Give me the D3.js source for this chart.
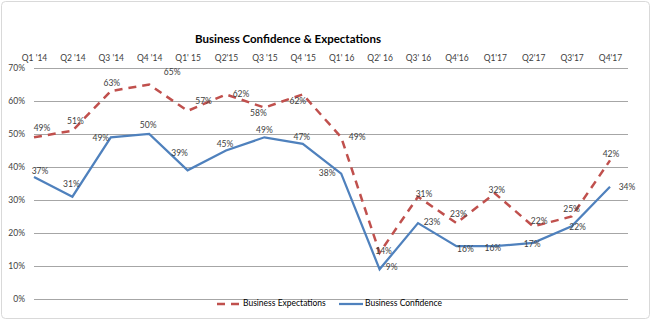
<!DOCTYPE html>
<html>
<head>
<meta charset="utf-8">
<script src="https://cdn.jsdelivr.net/npm/d3@7"></script>
<style>
html,body{margin:0;padding:0;background:#fff;}
svg{display:block;font-family:Lato,"Open Sans",sans-serif;}
</style>
</head>
<body>
<svg id="chart" width="652" height="321"></svg>
<script>
const categories = ["Q1 '14","Q2 '14","Q3 '14","Q4 '14","Q1' 15","Q2'15","Q3 '15","Q4 '15","Q1' 16","Q2' 16","Q3' 16","Q4'16","Q1'17","Q2'17","Q3'17","Q4'17"];
const expectations = [49,51,63,65,57,62,58,62,49,14,31,23,32,22,25,42];
const confidence   = [37,31,49,50,39,45,49,47,38,9,23,16,16,17,22,34];
const yTicks = [0,10,20,30,40,50,60,70];

// label placement offsets (px) relative to each point
const expLabelDx = [8,3,1,23,16,15,-6,-5,16,4,6,2,2,6,0,1];
const expLabelDy = [-8,-9,-7,-12,-9,0,6,7,1,-1,-2,-8,-3,-5,-7,-6];
const confLabelDx = [6,-1,-10,-1,-8,-1,0,-1,-14,12,14,9,-2,-1,6,17];
const confLabelDy = [-5,-12,2,-8,-16,-6,-6,-6,0,-1,0,4,3,2,1,1];

const svg = d3.select("#chart");
const W = 652, H = 321;

// border
svg.append("rect").attr("x",1.5).attr("y",1.5).attr("width",W-4).attr("height",H-4)
  .attr("rx",4).attr("fill","#fff").attr("stroke","#d9d9d9").attr("stroke-width",1);

const x = d3.scalePoint().domain(categories).range([34,610]);
const y = d3.scaleLinear().domain([0,70]).range([299,68]);
const gridRight = 628;

// gridlines
svg.append("g").selectAll("line").data(yTicks).join("line")
  .attr("x1",34).attr("x2",gridRight)
  .attr("y1",d=>Math.round(y(d))+0.5).attr("y2",d=>Math.round(y(d))+0.5)
  .attr("stroke","#a6a6a6").attr("stroke-width",1);

// y axis labels
const yAxis = d3.axisLeft(y).tickValues(yTicks).tickFormat(d=>d+"%").tickSize(0).tickPadding(0);
const gy = svg.append("g").attr("transform","translate(25,0)").call(yAxis);
gy.select(".domain").remove();
gy.selectAll("text").attr("font-size",8.5).attr("fill","#404040").attr("font-family","Lato,sans-serif");

// x axis labels at top
const xAxis = d3.axisTop(x).tickSize(0).tickPadding(0);
const gx = svg.append("g").attr("transform","translate(0,61)").call(xAxis);
gx.select(".domain").remove();
gx.selectAll("text").attr("font-size",8.5).attr("fill","#404040").attr("font-family","Lato,sans-serif");

// title
svg.append("text").attr("x",288).attr("y",43).attr("text-anchor","middle")
  .attr("font-size",11.5).attr("font-weight","bold").attr("fill","#000")
  .text("Business Confidence & Expectations");

const line = d3.line().x((d,i)=>x(categories[i])).y(d=>y(d));

svg.append("path").datum(expectations).attr("d",line).attr("fill","none")
  .attr("stroke","#c0504d").attr("stroke-width",2.5).attr("stroke-dasharray","8,6");
svg.append("path").datum(confidence).attr("d",line).attr("fill","none")
  .attr("stroke","#4f81bd").attr("stroke-width",2.25);

// data labels
function labels(data, dxs, dys){
  svg.append("g").selectAll("text").data(data).join("text")
    .attr("x",(d,i)=>x(categories[i])+dxs[i])
    .attr("y",(d,i)=>y(d)+dys[i])
    .attr("text-anchor","middle").attr("dominant-baseline","middle")
    .attr("font-size",8.5).attr("fill","#404040")
    .text(d=>d+"%");
}
labels(expectations, expLabelDx, expLabelDy);
labels(confidence, confLabelDx, confLabelDy);

// legend
const lg = svg.append("g").attr("transform","translate(0,304)");
lg.append("line").attr("x1",217).attr("x2",241).attr("y1",0).attr("y2",0)
  .attr("stroke","#c0504d").attr("stroke-width",2.5).attr("stroke-dasharray","8,6");
lg.append("text").attr("x",243).attr("y",0).attr("dominant-baseline","middle")
  .attr("font-size",8.5).attr("fill","#000").text("Business Expectations");
lg.append("line").attr("x1",339).attr("x2",363).attr("y1",0).attr("y2",0)
  .attr("stroke","#4f81bd").attr("stroke-width",2.25);
lg.append("text").attr("x",365).attr("y",0).attr("dominant-baseline","middle")
  .attr("font-size",8.5).attr("fill","#000").text("Business Confidence");
</script>
</body>
</html>
